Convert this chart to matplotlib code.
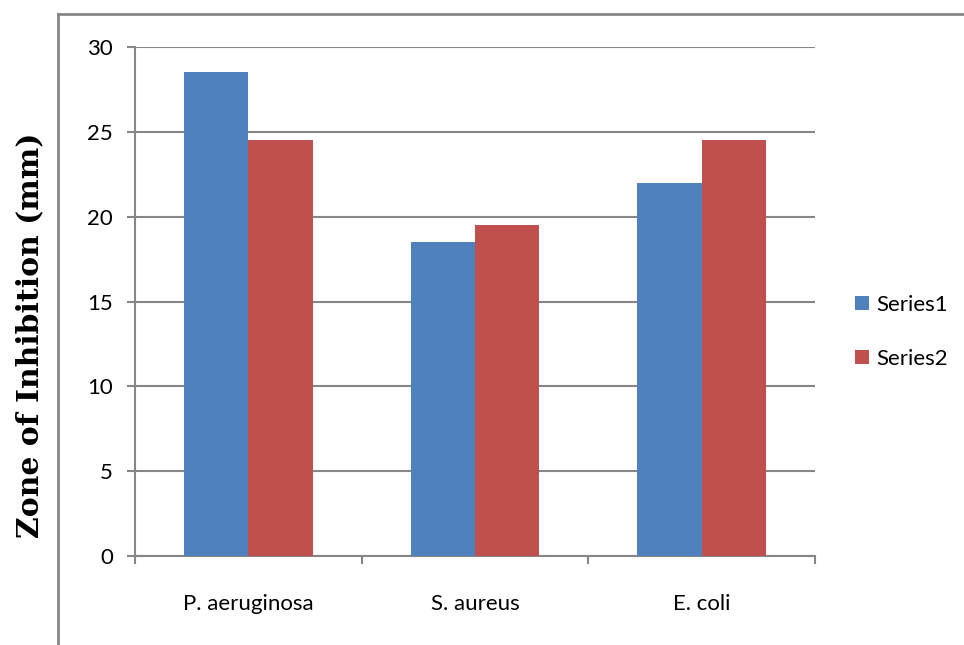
import numpy as np
import matplotlib.pyplot as plt
from matplotlib.lines import Line2D

# bacteria tested and zone sizes for each series (mm)
categories = ["P. aeruginosa", "S. aureus", "E. coli"]
series_names = ["Series1", "Series2"]
series1 = [28.5, 18.5, 22.0]
series2 = [24.5, 19.5, 24.5]
yticks = [0, 5, 10, 15, 20, 25, 30]

blue = "#4F81BD"
red = "#C0504D"
grey = "#868686"

fig = plt.figure(figsize=(9.64, 6.45), dpi=100)
ax = fig.add_axes([135 / 964, 1 - 556 / 645, 680 / 964, 509 / 645])

x = np.arange(len(categories))
w = 0.284
ax.bar(x - w / 2, series1, width=w, color=blue, label=series_names[0], zorder=3)
ax.bar(x + w / 2, series2, width=w, color=red, label=series_names[1], zorder=3)

ax.set_xlim(-0.5, len(categories) - 0.5)
ax.set_ylim(0, 30)
ax.set_yticks(yticks)
ax.set_yticklabels([str(t) for t in yticks], fontsize=16, family="Lato")
ax.set_xticks(x)
ax.set_xticklabels(categories, fontsize=16, family="Lato")

# category boundary ticks on the x axis
ax.set_xticks(np.arange(-0.5, len(categories), 1), minor=True)
ax.tick_params(axis="x", which="major", length=0, pad=27)
ax.tick_params(axis="x", which="minor", length=6, width=1.5, color=grey)
ax.tick_params(axis="y", length=6, width=1.5, color=grey, pad=10)

ax.grid(axis="y", color=grey, linewidth=1.5, zorder=0)
ax.set_axisbelow(True)
for side in ["top", "right"]:
    ax.spines[side].set_visible(False)
for side in ["left", "bottom"]:
    ax.spines[side].set_color(grey)
    ax.spines[side].set_linewidth(1.5)

fig.text(30 / 964, 1 - 335 / 645, "Zone of Inhibition (mm)", rotation=90,
         ha="center", va="center", fontsize=21.5, fontweight="bold",
         family="DejaVu Serif")

leg = ax.legend(loc="center left", bbox_to_anchor=(1.03, 0.44), frameon=False,
                prop={"family": "Lato", "size": 16},
                handlelength=0.6, handleheight=0.6, handletextpad=0.35,
                labelspacing=1.55)

# outer chart frame
fig.add_artist(Line2D([58 / 964, 58 / 964], [0, 1 - 14 / 645], color=grey, lw=2))
fig.add_artist(Line2D([58 / 964, 1], [1 - 14 / 645, 1 - 14 / 645], color=grey, lw=2))

fig.savefig("out.png", dpi=100)
